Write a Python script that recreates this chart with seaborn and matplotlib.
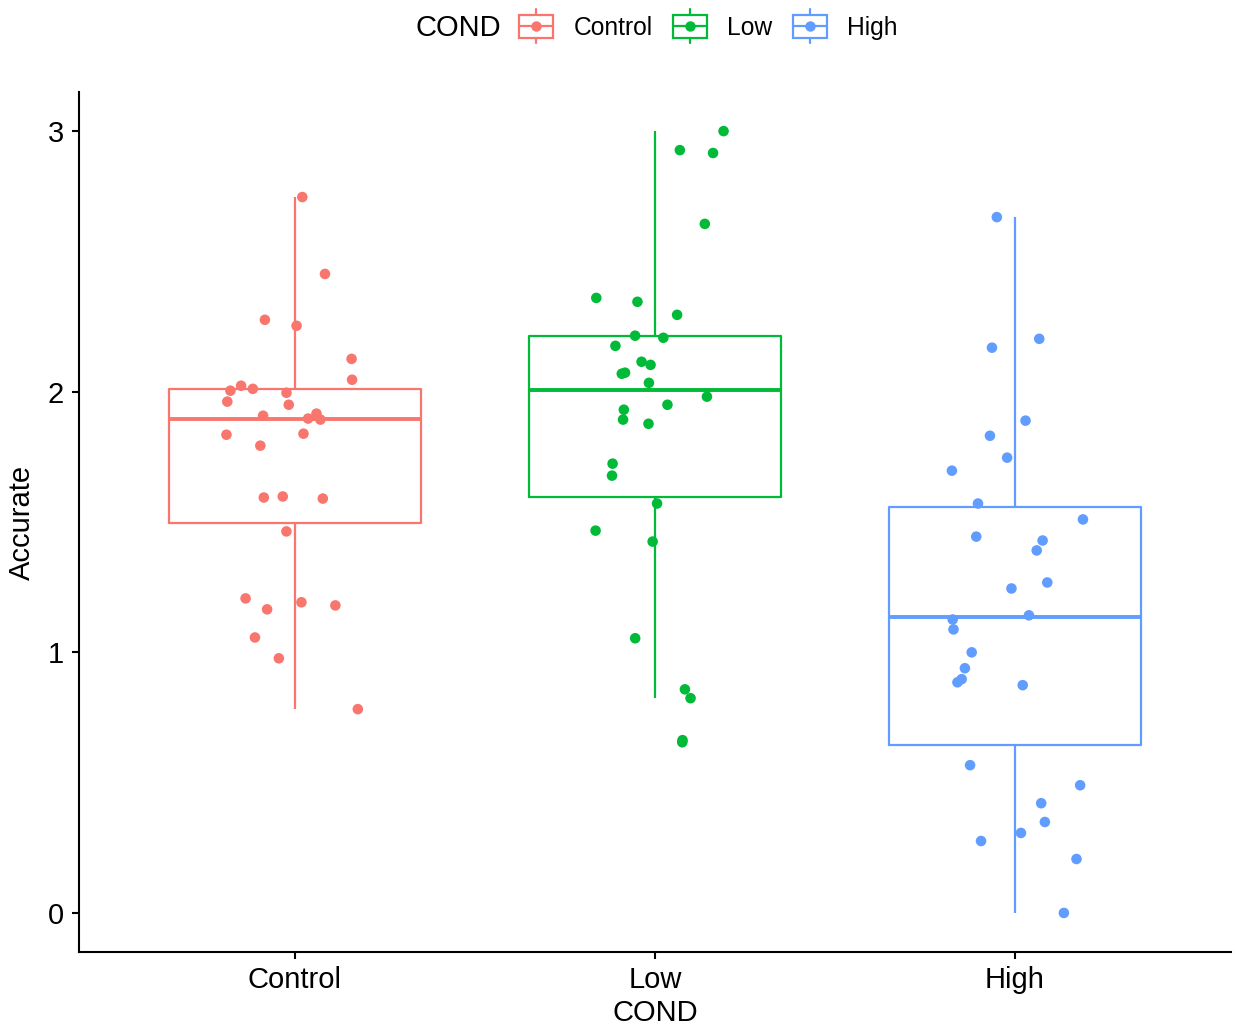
import numpy as np
import pandas as pd
import matplotlib
matplotlib.use("Agg")
import matplotlib.pyplot as plt
import matplotlib.patches as mpatches
import matplotlib.lines as mlines
from matplotlib.legend_handler import HandlerBase
import seaborn as sns

# ---- data ----
groups = ["Control", "Low", "High"]
colors = ["#F8766D", "#00BA38", "#619CFF"]

control_vals = [2.747, 2.452, 2.276, 2.253, 2.126, 2.046, 2.023, 2.011, 2.004, 1.996,
                1.962, 1.950, 1.916, 1.908, 1.893, 1.897, 1.835, 1.839, 1.793, 1.598,
                1.594, 1.590, 1.464, 1.207, 1.192, 1.180, 1.165, 1.057, 0.977, 0.782]
low_vals = [3.000, 2.927, 2.916, 2.644, 2.345, 2.360, 2.295, 2.207, 2.215, 2.176,
            2.115, 2.103, 2.069, 2.073, 2.034, 1.981, 1.950, 1.931, 1.893, 1.877,
            1.724, 1.678, 1.571, 1.467, 1.425, 1.054, 0.858, 0.824, 0.663, 0.655]
high_vals = [2.670, 2.203, 2.169, 1.889, 1.831, 1.747, 1.697, 1.571, 1.510, 1.444,
             1.429, 1.391, 1.268, 1.245, 1.142, 1.126, 1.088, 1.000, 0.939, 0.885,
             0.897, 0.874, 0.567, 0.490, 0.421, 0.307, 0.349, 0.276, 0.207, 0.000]

y_ticks = [0, 1, 2, 3]

df = pd.DataFrame({
    "COND": ["Control"] * len(control_vals) + ["Low"] * len(low_vals) + ["High"] * len(high_vals),
    "Accurate": control_vals + low_vals + high_vals,
})
palette = dict(zip(groups, colors))


class BoxKey(HandlerBase):
    # legend key: small open box with whisker stubs and a dot
    def create_artists(self, legend, orig_handle, xdescent, ydescent,
                       width, height, fontsize, trans):
        c = orig_handle.get_edgecolor()
        cx = -xdescent + width / 2
        cy = -ydescent + height / 2
        bh = 8.3
        wh = 12.5
        box = mpatches.Rectangle((-xdescent, cy - bh), width, 2 * bh,
                                 facecolor="white", edgecolor=c, lw=1.6, transform=trans)
        med = mlines.Line2D([-xdescent, -xdescent + width], [cy, cy], color=c, lw=1.6, transform=trans)
        w1 = mlines.Line2D([cx, cx], [cy + bh, cy + wh], color=c, lw=1.6, transform=trans)
        w2 = mlines.Line2D([cx, cx], [cy - bh, cy - wh], color=c, lw=1.6, transform=trans)
        dot = mlines.Line2D([cx], [cy], marker="o", ms=7.5, color=c, mew=0, ls="", transform=trans)
        return [box, med, w1, w2, dot]


sns.set_style("ticks")
plt.rcParams["font.family"] = ["Liberation Sans", "DejaVu Sans"]
plt.rcParams["text.color"] = "black"
plt.rcParams["axes.labelcolor"] = "black"

fig = plt.figure(figsize=(12.36, 10.27), dpi=100)
ax = fig.add_axes([0.0639, 0.0730, 0.9321, 0.8374])

sns.boxplot(data=df, x="COND", y="Accurate", hue="COND", order=groups, hue_order=groups,
            palette=palette, fill=False, showfliers=False, showcaps=False, width=0.7,
            linewidth=1.6, medianprops={"linewidth": 2.8}, legend=False, ax=ax)

np.random.seed(3)
sns.stripplot(data=df, x="COND", y="Accurate", hue="COND", order=groups, hue_order=groups,
              palette=palette, jitter=0.2, size=7.6, linewidth=0, legend=False,
              zorder=3, ax=ax)

ax.set_xlim(-0.6, 2.6)
ax.set_ylim(-0.15, 3.15)
ax.set_yticks(y_ticks)
ax.set_yticklabels([str(t) for t in y_ticks])
ax.set_xlabel("COND", fontsize=21, labelpad=4)
ax.set_ylabel("Accurate", fontsize=21, labelpad=8)
ax.tick_params(axis="both", labelsize=21, length=5, width=1.5, color="black", labelcolor="black")
ax.tick_params(axis="y", pad=6)
ax.tick_params(axis="x", pad=5)
for s in ["left", "bottom"]:
    ax.spines[s].set_linewidth(1.5)
    ax.spines[s].set_color("black")
sns.despine(ax=ax)

handles = [mpatches.Patch(facecolor="white", edgecolor=c, label=g) for g, c in zip(groups, colors)]
fig.legend(handles=handles, labels=groups, handler_map={mpatches.Patch: BoxKey()},
           loc="center", bbox_to_anchor=(0.573, 0.973), ncol=3, frameon=False,
           fontsize=17.7, handlelength=1.4, handletextpad=0.82, columnspacing=0.82)
fig.text(0.3705, 0.973, "COND", fontsize=21, ha="center", va="center")

fig.savefig("out.png", dpi=100)
